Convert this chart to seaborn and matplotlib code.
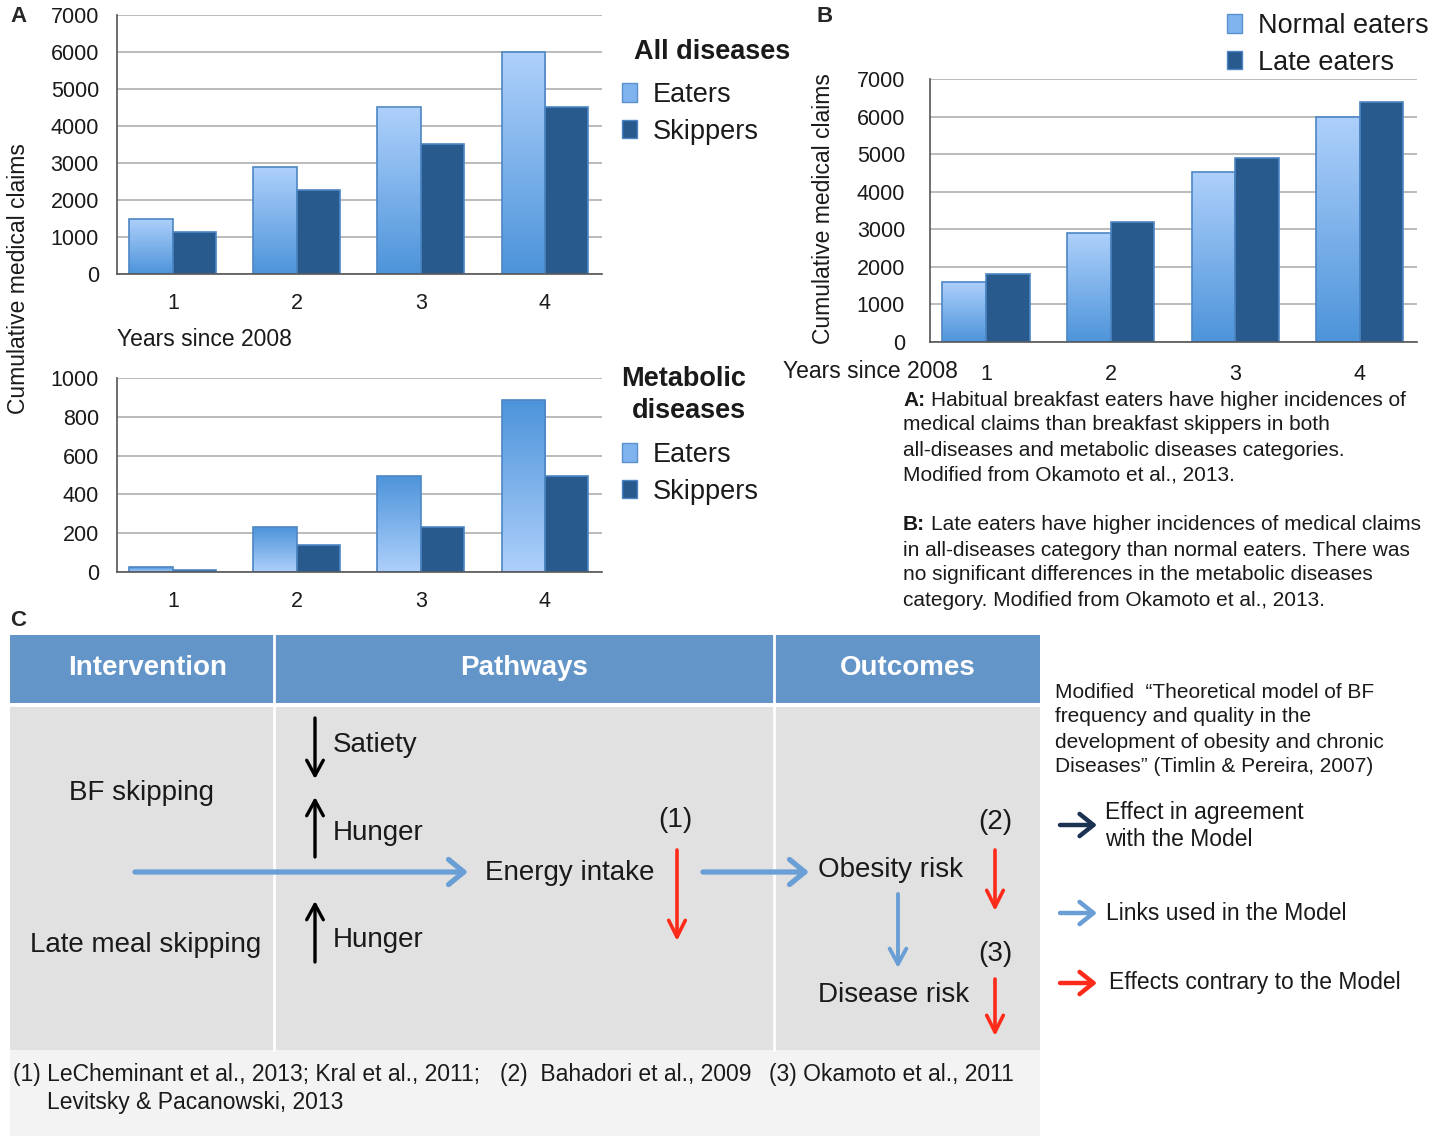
import numpy as np
import pandas as pd
import matplotlib
matplotlib.use("Agg")
import matplotlib.pyplot as plt
import seaborn as sns
from matplotlib.patches import Patch, Rectangle
from matplotlib.colors import LinearSegmentedColormap

sns.set_style("white")
plt.rcParams['font.family'] = ['Liberation Sans', 'DejaVu Sans']

# Dados
years = ['1', '2', '3', '4']
all_eaters = [1500, 2900, 4500, 6000]
all_skippers = [1130, 2260, 3500, 4500]
met_eaters = [25, 230, 495, 885]
met_skippers = [8, 140, 230, 495]
normal_eaters = [1600, 2900, 4530, 6000]
late_eaters = [1800, 3200, 4900, 6400]

W, H = 1439, 1141
fig = plt.figure(figsize=(W / 100, H / 100), dpi=100)

def box(l, t, r, b):
    return [l / W, 1 - b / H, (r - l) / W, (b - t) / H]

# eixo de fundo em pixels para textos e painel C
ov = fig.add_axes([0, 0, 1, 1])
ov.set_xlim(0, W)
ov.set_ylim(H, 0)
ov.axis('off')

LIGHT_TOP = '#aed0fb'
LIGHT_BOT = '#4d94da'
DARK = '#285a8e'
EDGE = '#4d86c4'
TXT = '#1a1a1a'

def gradient_bars(ax, container, top, bottom):
    cmap = LinearSegmentedColormap.from_list('g', [bottom, top])
    grad = np.linspace(0, 1, 128).reshape(-1, 1)
    for bar in container:
        x, w, h = bar.get_x(), bar.get_width(), bar.get_height()
        im = ax.imshow(grad, extent=[x, x + w, 0, h], origin='lower', cmap=cmap,
                       aspect='auto', zorder=0.95, interpolation='bicubic')
        im.set_clip_path(bar)
        bar.set_facecolor('none')

def bar_panel(rect, v1, v2, n1, n2, ymax, step, top, bottom, xpad, ypad):
    ax = fig.add_axes(box(*rect))
    df = pd.DataFrame({'year': years * 2,
                       'claims': v1 + v2,
                       'group': [n1] * 4 + [n2] * 4})
    sns.barplot(data=df, x='year', y='claims', hue='group', hue_order=[n1, n2],
                palette={n1: LIGHT_BOT, n2: DARK}, width=0.7, errorbar=None,
                saturation=1, edgecolor=EDGE, linewidth=1.2, legend=False, ax=ax)
    gradient_bars(ax, ax.containers[0], top, bottom)
    ax.set_axisbelow(True)
    ax.yaxis.grid(True, color='#b5b5b5', lw=1.3)
    ax.set_ylim(0, ymax)
    ax.set_yticks(np.arange(0, ymax + 1, step))
    ax.set_xlim(-0.45, 3.46)
    ax.set_xlabel('')
    ax.set_ylabel('')
    sns.despine(ax=ax)
    for s in ['left', 'bottom']:
        ax.spines[s].set_color('#555555')
        ax.spines[s].set_linewidth(1.2)
    ax.tick_params(axis='y', labelsize=15.5, length=4, color='#999999', pad=ypad, labelcolor=TXT)
    ax.tick_params(axis='x', labelsize=15.5, length=0, pad=xpad, labelcolor=TXT)
    ax.patch.set_alpha(0)
    return ax

axA1 = bar_panel((117, 15, 602, 274), all_eaters, all_skippers, 'Eaters', 'Skippers',
                 7000, 1000, LIGHT_TOP, LIGHT_BOT, 14, 9)
axA2 = bar_panel((117, 378, 602, 572), met_eaters, met_skippers, 'Eaters', 'Skippers',
                 1000, 200, LIGHT_BOT, LIGHT_TOP, 14, 9)
axB = bar_panel((930, 79, 1417, 342), normal_eaters, late_eaters, 'Normal eaters', 'Late eaters',
                7000, 1000, LIGHT_TOP, LIGHT_BOT, 16, 14)

def legend_at(ax, labels, x, y):
    handles = [Patch(facecolor='#7fb3ee', edgecolor='#5a90cc'),
               Patch(facecolor=DARK, edgecolor=EDGE)]
    ax.legend(handles, labels, loc='upper left', bbox_to_anchor=(x, y),
              bbox_transform=ov.transData, frameon=False, fontsize=19.5,
              handlelength=0.55, handleheight=0.65, handletextpad=0.6,
              labelspacing=0.4, borderpad=0, borderaxespad=0, labelcolor=TXT)

legend_at(axA1, ['Eaters', 'Skippers'], 622, 82)
legend_at(axA2, ['Eaters', 'Skippers'], 622, 442)
legend_at(axB, ['Normal eaters', 'Late eaters'], 1227, 13)

# títulos e rótulos
ov.text(634, 52, 'All diseases', fontsize=19.5, fontweight='bold', va='center', color=TXT)
ov.text(746, 379, 'Metabolic', fontsize=19.5, fontweight='bold', va='center', ha='right', color=TXT)
ov.text(746, 411, 'diseases', fontsize=19.5, fontweight='bold', va='center', ha='right', color=TXT)
ov.text(19, 279, 'Cumulative medical claims', rotation=90, fontsize=16.5, ha='center', va='center', color=TXT)
ov.text(823, 209, 'Cumulative medical claims', rotation=90, fontsize=16.5, ha='center', va='center', color=TXT)
ov.text(117, 340, 'Years since 2008', fontsize=16.5, va='center', color=TXT)
ov.text(783, 372, 'Years since 2008', fontsize=16.5, va='center', color=TXT)
ov.text(10, 17, 'A', fontsize=16, fontweight='bold', va='center')
ov.text(816, 17, 'B', fontsize=16, fontweight='bold', va='center')
ov.text(10, 620, 'C', fontsize=16, fontweight='bold', va='center')

# legenda do painel B
cap_a = ['Habitual breakfast eaters have higher incidences of',
         'medical claims than breakfast skippers in both',
         'all-diseases and metabolic diseases categories.',
         'Modified from Okamoto et al., 2013.']
cap_b = ['Late eaters have higher incidences of medical claims',
         'in all-diseases category than normal eaters. There was',
         'no significant differences in the metabolic diseases',
         'category. Modified from Okamoto et al., 2013.']
for tag, lines, y0 in [('A:', cap_a, 400), ('B:', cap_b, 525)]:
    ov.text(903, y0, tag, fontsize=15, fontweight='bold', va='center', color=TXT)
    for i, s in enumerate(lines):
        x = 931 if i == 0 else 903
        ov.text(x, y0 + i * 25, s, fontsize=15, va='center', color=TXT)

# painel C: tabela
ov.add_patch(Rectangle((10, 635), 1030, 68, facecolor='#6395c9', edgecolor='none'))
ov.add_patch(Rectangle((10, 707), 1030, 343, facecolor='#e1e1e1', edgecolor='none'))
ov.add_patch(Rectangle((10, 1050), 1030, 86, facecolor='#f3f3f3', edgecolor='none'))
for xv in [274, 774]:
    ov.plot([xv, xv], [635, 1050], color='white', lw=2)
for txt, xc in [('Intervention', 148), ('Pathways', 524), ('Outcomes', 908)]:
    ov.text(xc, 668, txt, fontsize=20, fontweight='bold', color='white', ha='center', va='center')

body = [('BF skipping', 69, 793), ('Late meal skipping', 30, 945),
        ('Satiety', 333, 745), ('Hunger', 333, 833), ('Hunger', 333, 940),
        ('Energy intake', 485, 873), ('Obesity risk', 818, 870), ('Disease risk', 818, 995)]
for txt, x, y in body:
    ov.text(x, y, txt, fontsize=20, va='center', color=TXT)
for txt, x, y in [('(1)', 675, 820), ('(2)', 995, 822), ('(3)', 995, 954)]:
    ov.text(x, y, txt, fontsize=20, ha='center', va='center', color=TXT)

BLUE = '#6a9fd6'
RED = '#ff2b1a'
NAVY = '#1c3252'

def arrow(x0, y0, x1, y1, color, lw, hl, hw):
    ov.annotate('', xy=(x1, y1), xytext=(x0, y0),
                arrowprops=dict(arrowstyle='->,head_length=%s,head_width=%s' % (hl, hw),
                                color=color, lw=lw, shrinkA=0, shrinkB=0,
                                mutation_scale=20))

arrow(315, 718, 315, 779, 'black', 2.4, 0.55, 0.3)
arrow(315, 857, 315, 797, 'black', 2.4, 0.55, 0.3)
arrow(315, 962, 315, 901, 'black', 2.4, 0.55, 0.3)
arrow(135, 872, 468, 872, BLUE, 3.8, 0.55, 0.45)
arrow(703, 872, 809, 872, BLUE, 3.8, 0.55, 0.45)
arrow(898, 894, 898, 968, BLUE, 2.8, 0.55, 0.3)
arrow(677, 850, 677, 941, RED, 2.6, 0.6, 0.3)
arrow(995, 850, 995, 911, RED, 2.6, 0.6, 0.3)
arrow(995, 979, 995, 1036, RED, 2.6, 0.6, 0.3)

ov.text(13, 1075, '(1) LeCheminant et al., 2013; Kral et al., 2011;', fontsize=16.5, va='center', color=TXT)
ov.text(47, 1102, 'Levitsky & Pacanowski, 2013', fontsize=16.5, va='center', color=TXT)
ov.text(500, 1075, '(2)  Bahadori et al., 2009', fontsize=16.5, va='center', color=TXT)
ov.text(769, 1075, '(3) Okamoto et al., 2011', fontsize=16.5, va='center', color=TXT)

# nota e legenda à direita
note = ['Modified  \u201cTheoretical model of BF',
        'frequency and quality in the',
        'development of obesity and chronic',
        'Diseases\u201d (Timlin & Pereira, 2007)']
for i, s in enumerate(note):
    ov.text(1055, 692 + i * 25, s, fontsize=15, va='center', color=TXT)

arrow(1060, 825, 1097, 825, NAVY, 3.2, 0.5, 0.4)
arrow(1060, 913, 1097, 913, BLUE, 3.2, 0.5, 0.4)
arrow(1060, 983, 1097, 983, RED, 3.2, 0.5, 0.4)
ov.text(1105, 813, 'Effect in agreement', fontsize=16.5, va='center', color=TXT)
ov.text(1105, 840, 'with the Model', fontsize=16.5, va='center', color=TXT)
ov.text(1106, 913, 'Links used in the Model', fontsize=16.5, va='center', color=TXT)
ov.text(1109, 983, 'Effects contrary to the Model', fontsize=16.5, va='center', color=TXT)

fig.savefig('out.png', dpi=100)
